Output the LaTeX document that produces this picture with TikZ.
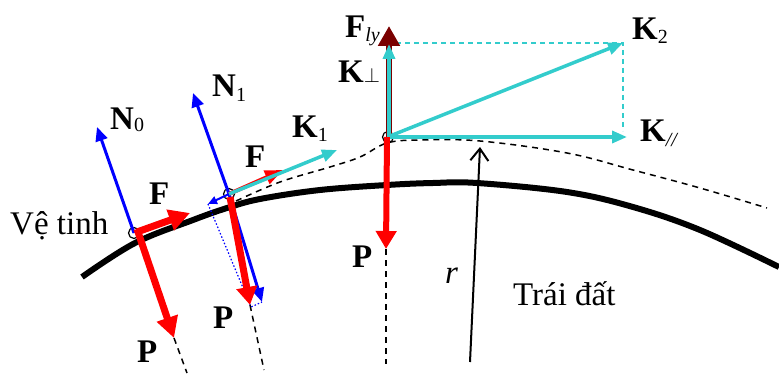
\documentclass[tikz,border=0pt]{standalone}
\usepackage{fontspec}
\setmainfont{Liberation Serif}
\usetikzlibrary{arrows.meta}
\definecolor{kcyan}{RGB}{51,204,204}
\definecolor{dred}{RGB}{122,0,0}
\begin{document}
\begin{tikzpicture}[x=1pt,y=-1pt,
  lab/.style={inner sep=0pt, anchor=base west, font=\fontsize{33}{36}\selectfont},
  sat/.style={circle, draw=black, line width=1.2pt, minimum size=11pt, inner sep=0pt},
  redbig/.style={draw=red, line width=7pt, -{Triangle[length=21pt,width=21pt]}},
  redmid/.style={draw=red, line width=6pt, -{Triangle[length=18pt,width=20pt]}},
  redthin/.style={draw=red, line width=4pt, -{Triangle[length=18pt,width=14pt]}},
  bluearr/.style={draw=blue, line width=3pt, -{Triangle[length=14pt,width=12pt]}},
  cyanarr/.style={draw=kcyan, line width=3.5pt, -{Triangle[length=15pt,width=12pt]}},
  orbit/.style={draw=black, line width=1.5pt, dash pattern=on 6pt off 5pt},
  cydash/.style={draw=kcyan, line width=1.5pt, dash pattern=on 5pt off 4pt},
]
\useasboundingbox (0,0) rectangle (779,374);

% Earth surface
\draw[line width=6pt, line cap=butt] plot[smooth, tension=0.6] coordinates
  {(82,277) (135,243) (193,220) (227,208) (260,199) (320,190) (387,185) (433,183)
   (477,183) (567,192) (633,207) (700,230) (779,267)};
% orbit
\draw[orbit] plot[smooth, tension=0.6] coordinates
  {(236,201) (280,182) (330,167) (360,157) (387,143) (420,140) (480,141) (567,153)
   (633,170) (700,188) (767,208)};

% satellites
\node[sat] (s0) at (134,233) {};
\node[sat] (s1) at (229,194) {};
\node[sat] (s2) at (388,137) {};

% ---- satellite 0
\coordinate (n0) at (97,127);
\coordinate (f0) at (190,213);
\coordinate (p0) at (174,338);
\coordinate (p0e) at (187,373);
\draw[bluearr] (s0.center) -- (n0);
\draw[redbig] (137,232) -- (f0);
\draw[redbig] (137,229) -- (p0);
\draw[orbit] (p0) -- (p0e);

% ---- satellite 1
\coordinate (n1) at (193,93);
\coordinate (n1d) at (262,302);
\coordinate (t1) at (208,204);
\coordinate (p1) at (250,305);
\coordinate (dd) at (251,307);
\coordinate (f1) at (283,170);
\coordinate (k1) at (337,150);
\coordinate (p1e) at (264,370);
\draw[blue, line width=1.2pt, dash pattern=on 1.5pt off 2pt] (t1) -- (dd) -- (n1d);
\draw[bluearr] (s1.center) -- (n1);
\draw[bluearr] (s1.center) -- (n1d);
\draw[draw=blue, line width=2pt, -{Triangle[length=9pt,width=8pt]}] (s1.center) -- (t1);
\draw[redmid, line width=7pt] (230,197) -- (p1);
\draw[redthin] (s1.center) -- (f1);
\draw[cyanarr] (s1.center) -- (k1);
\draw[orbit] (p1) -- (p1e);

% ---- satellite 2
\coordinate (fly) at (389,26);
\coordinate (kp) at (389,44);
\coordinate (p2) at (386,249);
\coordinate (p2e) at (386,364);
\coordinate (k2) at (623,43);
\coordinate (kpar) at (627,137);
\coordinate (c1) at (396,43);
\coordinate (c2) at (623,131);
\draw[cydash] (c1) -- (k2) -- (c2);
\draw[draw=dred, line width=6pt, -{Triangle[length=20pt,width=21pt]}] (389,137) -- (fly);
\draw[cyanarr] (389,137) -- (kp);
\draw[redmid] (387,137) -- (p2);
\draw[orbit] (p2) -- (p2e);
\draw[cyanarr] (390,136) -- (k2);
\draw[cyanarr] (390,137) -- (kpar);

% radius
\coordinate (r0) at (470,362);
\coordinate (r1) at (480,147);
\draw[line width=2pt, -{Straight Barb[length=12pt,width=18pt]}] (r0) -- (r1);

% labels
\node[lab] (lvt) at (10,235) {Vệ tinh};
\node[lab] (ln0) at (110,130) {\textbf{N}\raisebox{-2pt}{\fontsize{20}{20}\selectfont 0}};
\node[lab] (lf0) at (149,205) {\textbf{F}};
\node[lab] (lp0) at (137,362) {\textbf{P}};
\node[lab] (ln1) at (212,97) {\textbf{N}\raisebox{-5pt}{\fontsize{20}{20}\selectfont 1}};
\node[lab] (lf1) at (245,168) {\textbf{F}};
\node[lab] (lk1) at (292,138) {\textbf{K}\raisebox{-4pt}{\fontsize{20}{20}\selectfont 1}};
\node[lab] (lp1) at (213,328) {\textbf{P}};
\node[lab] (lfly) at (345,38) {\textbf{F}\raisebox{-4pt}{\fontsize{20}{20}\selectfont\textit{ly}}};
\node[lab] (lkp) at (338,83) {\textbf{K}{\fontsize{22}{22}\selectfont$\perp$}};
\node[lab] (lk2) at (632,40) {\textbf{K}\raisebox{-4pt}{\fontsize{20}{20}\selectfont 2}};
\node[lab] (lkpar) at (640,142) {\textbf{K}\raisebox{-5pt}{\fontsize{20}{20}\selectfont\textit{//}}};
\node[lab] (lp2) at (352,267) {\textbf{P}};
\node[lab] (lr) at (445,283) {\textit{r}};
\node[lab] (ltd) at (513,305) {Trái đất};
\end{tikzpicture}
\end{document}
